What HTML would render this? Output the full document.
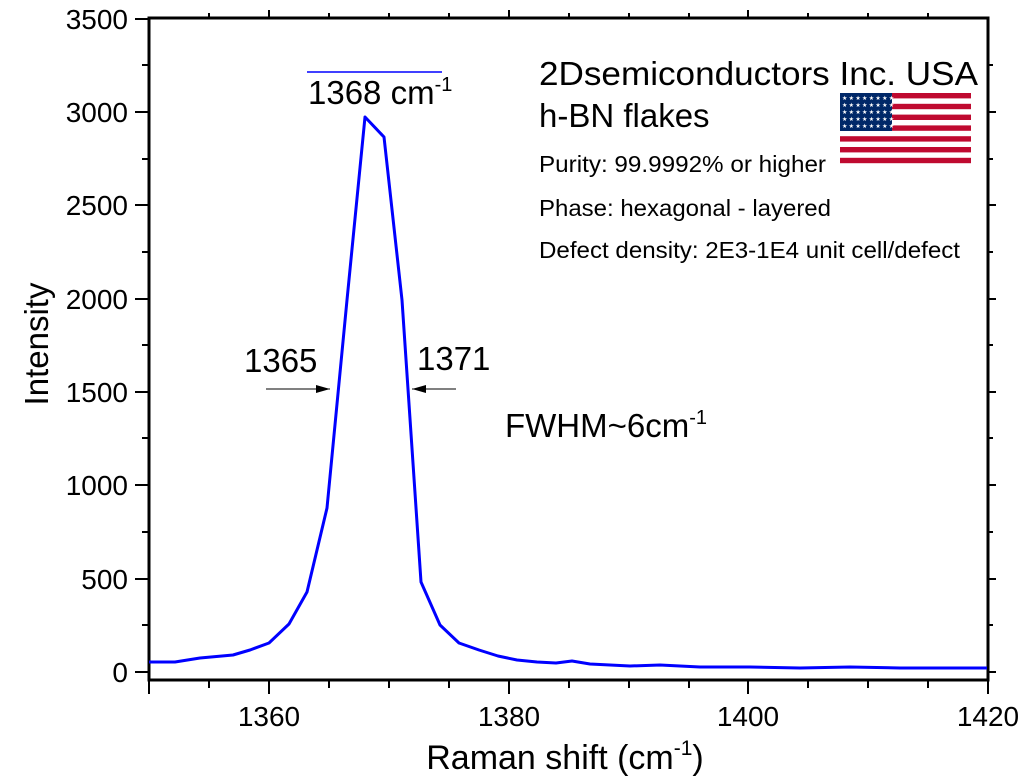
<!DOCTYPE html><html><head><style>body{margin:0;background:#fff}svg{display:block}text{font-family:"Liberation Sans",Arial,sans-serif}</style></head><body>
<svg width="1028" height="783" viewBox="0 0 1028 783">
<defs><marker id="ah" markerWidth="14" markerHeight="8" refX="14" refY="4" orient="auto" markerUnits="userSpaceOnUse"><path d="M0,0 L14,4 L0,8 Z" fill="#000"/></marker></defs>
<rect x="149" y="18" width="839" height="662" fill="none" stroke="#000" stroke-width="3"/>
<g stroke="#000" stroke-width="2">
<path d="M135 672H149M135 579H149M135 485H149M135 392H149M135 299H149M135 205H149M135 112H149M135 19H149"/>
<path d="M142 625H149M142 532H149M142 438H149M142 345H149M142 252H149M142 159H149M142 65H149"/>
<path d="M988 672H996M988 579H996M988 485H996M988 392H996M988 299H996M988 205H996M988 112H996"/>
<path d="M988 625H993M988 532H993M988 438H993M988 345H993M988 252H993M988 159H993M988 65H993"/>
<path d="M269 680V694M509 680V694M748 680V694M988 680V694M149 680V694"/>
<path d="M209 680V688M329 680V688M389 680V688M449 680V688M569 680V688M629 680V688M689 680V688M808 680V688M868 680V688M928 680V688"/>
<path d="M269 18V10M509 18V10M748 18V10M209 18V13M329 18V13M389 18V13M449 18V13M569 18V13M629 18V13M689 18V13M808 18V13M868 18V13M928 18V13"/>
</g>
<g font-size="28" text-anchor="end" fill="#000">
<text x="128" y="682">0</text><text x="128" y="589">500</text><text x="128" y="495">1000</text><text x="128" y="402">1500</text><text x="128" y="309">2000</text><text x="128" y="215">2500</text><text x="128" y="122">3000</text><text x="128" y="29">3500</text>
</g>
<g font-size="28" text-anchor="middle">
<text x="269" y="726">1360</text><text x="509" y="726">1380</text><text x="748" y="726">1400</text><text x="988" y="726">1420</text>
<text x="565" y="769" font-size="34">Raman shift (cm<tspan font-size="21" dy="-14">-1</tspan><tspan dy="14">)</tspan></text>
</g>
<text transform="translate(48,344) rotate(-90)" font-size="33" text-anchor="middle">Intensity</text>
<polyline fill="none" stroke="#0000ff" stroke-width="3" stroke-linejoin="round" points="149,662 175,662 200,658 233,655 250,650 269,643 289,624 307,592 327,508 347,300 365,117 384,137 402,300 421,582 440,625 459,643 479,650 498,656 517,660 537,662 556,663 572,661 590,664 610,665 630,666 660,665 700,667 750,667 800,668 850,667 900,668 950,668 987,668"/>
<line x1="307" y1="72" x2="442" y2="72" stroke="#0000ff" stroke-width="1.5"/>
<text x="308" y="104" font-size="33">1368 cm<tspan font-size="20" dy="-13">-1</tspan></text>
<text x="244" y="372" font-size="33">1365</text>
<text x="417" y="370" font-size="33">1371</text>
<line x1="266" y1="389" x2="330" y2="389" stroke="#000" stroke-width="1" marker-end="url(#ah)"/>
<line x1="456" y1="389" x2="412" y2="389" stroke="#000" stroke-width="1" marker-end="url(#ah)"/>
<text x="505" y="437" font-size="33">FWHM~6cm<tspan font-size="20" dy="-13">-1</tspan></text>
<text x="539" y="85" font-size="33" textLength="439" lengthAdjust="spacingAndGlyphs">2Dsemiconductors Inc. USA</text>
<text x="539" y="127" font-size="33">h-BN flakes</text>
<text x="539" y="172" font-size="23" textLength="287" lengthAdjust="spacingAndGlyphs">Purity: 99.9992% or higher</text>
<text x="539" y="216" font-size="23" textLength="292" lengthAdjust="spacingAndGlyphs">Phase: hexagonal - layered</text>
<text x="539" y="258" font-size="23" textLength="421" lengthAdjust="spacingAndGlyphs">Defect density: 2E3-1E4 unit cell/defect</text>
<g>
<rect x="840" y="93" width="131" height="70" fill="#fff"/>
<g fill="#bf0a30">
<rect x="840" y="93" width="131" height="5.4"/><rect x="840" y="103.8" width="131" height="5.4"/><rect x="840" y="114.6" width="131" height="5.4"/><rect x="840" y="125.4" width="131" height="5.4"/><rect x="840" y="136.2" width="131" height="5.4"/><rect x="840" y="147" width="131" height="5.4"/><rect x="840" y="157.8" width="131" height="5.4"/>
</g>
<rect x="840" y="93" width="52" height="38" fill="#002868"/>
<g fill="#fff" font-size="6">
<text x="842" y="100" letter-spacing="1.3">★★★★★★★★</text><text x="842" y="107" letter-spacing="1.3">★★★★★★★★</text><text x="842" y="114" letter-spacing="1.3">★★★★★★★★</text><text x="842" y="121" letter-spacing="1.3">★★★★★★★★</text><text x="842" y="128" letter-spacing="1.3">★★★★★★★★</text>
</g>
</g>
</svg></body></html>
